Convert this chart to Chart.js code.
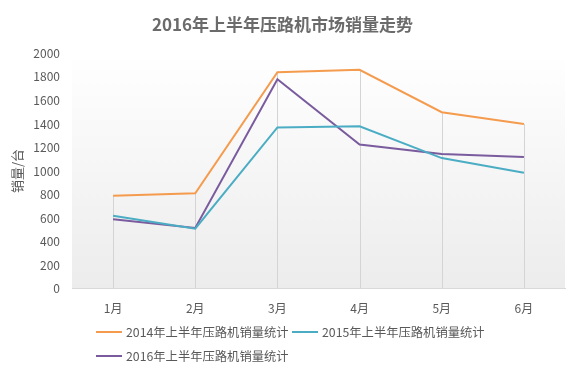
<!DOCTYPE html>
<html>
<head>
<meta charset="utf-8">
<script src="https://cdn.jsdelivr.net/npm/chart.js@4.4.0/dist/chart.umd.min.js"></script>
<style>
  html, body { margin: 0; padding: 0; background: #fff; }
  #wrap { position: relative; width: 580px; height: 374px; }
  #legend { position: absolute; left: 0; top: 0; width: 580px; height: 374px; pointer-events: none;
            font-family: "Noto Sans CJK SC", "Noto Sans", sans-serif; font-size: 12.3px; color: #595959; }
  .item { position: absolute; display: flex; align-items: center; white-space: nowrap; }
  .swatch { width: 26px; height: 2px; margin-right: 4px; }
</style>
</head>
<body>
<div id="wrap">
  <canvas id="c" width="580" height="374"></canvas>
  <div id="legend"></div>
</div>
<script>
// ---------- 数据 ----------
const months  = ['1月','2月','3月','4月','5月','6月'];
const s2014   = [790, 810, 1840, 1860, 1500, 1400];
const s2015   = [620, 510, 1370, 1380, 1110, 985];
const s2016   = [590, 515, 1780, 1225, 1145, 1120];
const names   = ['2014年上半年压路机销量统计','2015年上半年压路机销量统计','2016年上半年压路机销量统计'];
const colors  = ['#F59B4E', '#4BADC4', '#7A5C9E'];
const yTicks  = [0, 200, 400, 600, 800, 1000, 1200, 1400, 1600, 1800, 2000];

const FONT = '"Noto Sans CJK SC", "Noto Sans", sans-serif';
const $ = (id) => document.getElementById(id);

// 绘图区渐变背景
const plotBg = {
  id: 'plotBg',
  beforeDraw(chart) {
    const { ctx, chartArea: a } = chart;
    const g = ctx.createLinearGradient(0, a.top, 0, a.bottom);
    g.addColorStop(0, '#ffffff');
    g.addColorStop(1, '#ececec');
    ctx.save();
    ctx.fillStyle = g;
    ctx.fillRect(a.left, a.top, a.right - a.left, a.bottom - a.top);
    ctx.restore();
  }
};

// 垂直线（从最高点到横轴）
const dropLines = {
  id: 'dropLines',
  beforeDatasetsDraw(chart) {
    const { ctx, scales: { x, y } } = chart;
    ctx.save();
    ctx.strokeStyle = '#d4d4d4';
    ctx.lineWidth = 1;
    months.forEach((m, i) => {
      const top = Math.max(...chart.data.datasets.map(d => d.data[i]));
      const px = Math.round(x.getPixelForValue(i)) + 0.5;
      ctx.beginPath();
      ctx.moveTo(px, y.getPixelForValue(top));
      ctx.lineTo(px, y.getPixelForValue(0));
      ctx.stroke();
    });
    ctx.restore();
  }
};

const chart = new Chart($('c'), {
  type: 'line',
  data: {
    labels: months,
    datasets: [s2014, s2015, s2016].map((d, i) => ({
      label: names[i],
      data: d,
      borderColor: colors[i],
      backgroundColor: colors[i],
      borderWidth: 2,
      pointRadius: 0,
      tension: 0,
      fill: false
    }))
  },
  options: {
    responsive: false,
    animation: false,
    layout: { padding: { left: 0, right: 15, top: 0, bottom: 45 } },
    plugins: {
      legend: { display: false },
      tooltip: { enabled: false },
      title: {
        display: true,
        text: '2016年上半年压路机市场销量走势',
        color: '#6b6b6b',
        font: { family: FONT, size: 17, weight: 'bold' },
        padding: { top: 14, bottom: 19 }
      }
    },
    scales: {
      x: {
        offset: true,
        grid: { display: false, drawTicks: false },
        border: { display: true, color: '#d9d9d9' },
        ticks: { color: '#595959', font: { family: FONT, size: 12 }, padding: 13 }
      },
      y: {
        min: 0,
        max: 2000,
        afterBuildTicks: (s) => { s.ticks = yTicks.map(v => ({ value: v })); },
        afterFit: (s) => { s.width = 72; },
        grid: { display: false, drawTicks: false },
        border: { display: false },
        ticks: {
          color: '#595959',
          font: { family: FONT, size: 12 },
          padding: 12,
          callback: (v) => String(v)
        },
        title: {
          display: true,
          text: '销量/台',
          color: '#595959',
          font: { family: FONT, size: 13 },
          padding: { top: 9, bottom: 0 }
        }
      }
    }
  },
  plugins: [plotBg, dropLines]
});

// ---------- 图例（两列排布，第二行左对齐） ----------
chart.data.datasets.forEach((ds, i) => {
  const el = document.createElement('div');
  el.className = 'item';
  el.style.left = (96 + (i % 2) * 196) + 'px';
  el.style.top = (323 + Math.floor(i / 2) * 24) + 'px';
  el.innerHTML = `<span class="swatch" style="background:${ds.borderColor}"></span><span>${ds.label}</span>`;
  $('legend').appendChild(el);
});
</script>
</body>
</html>
